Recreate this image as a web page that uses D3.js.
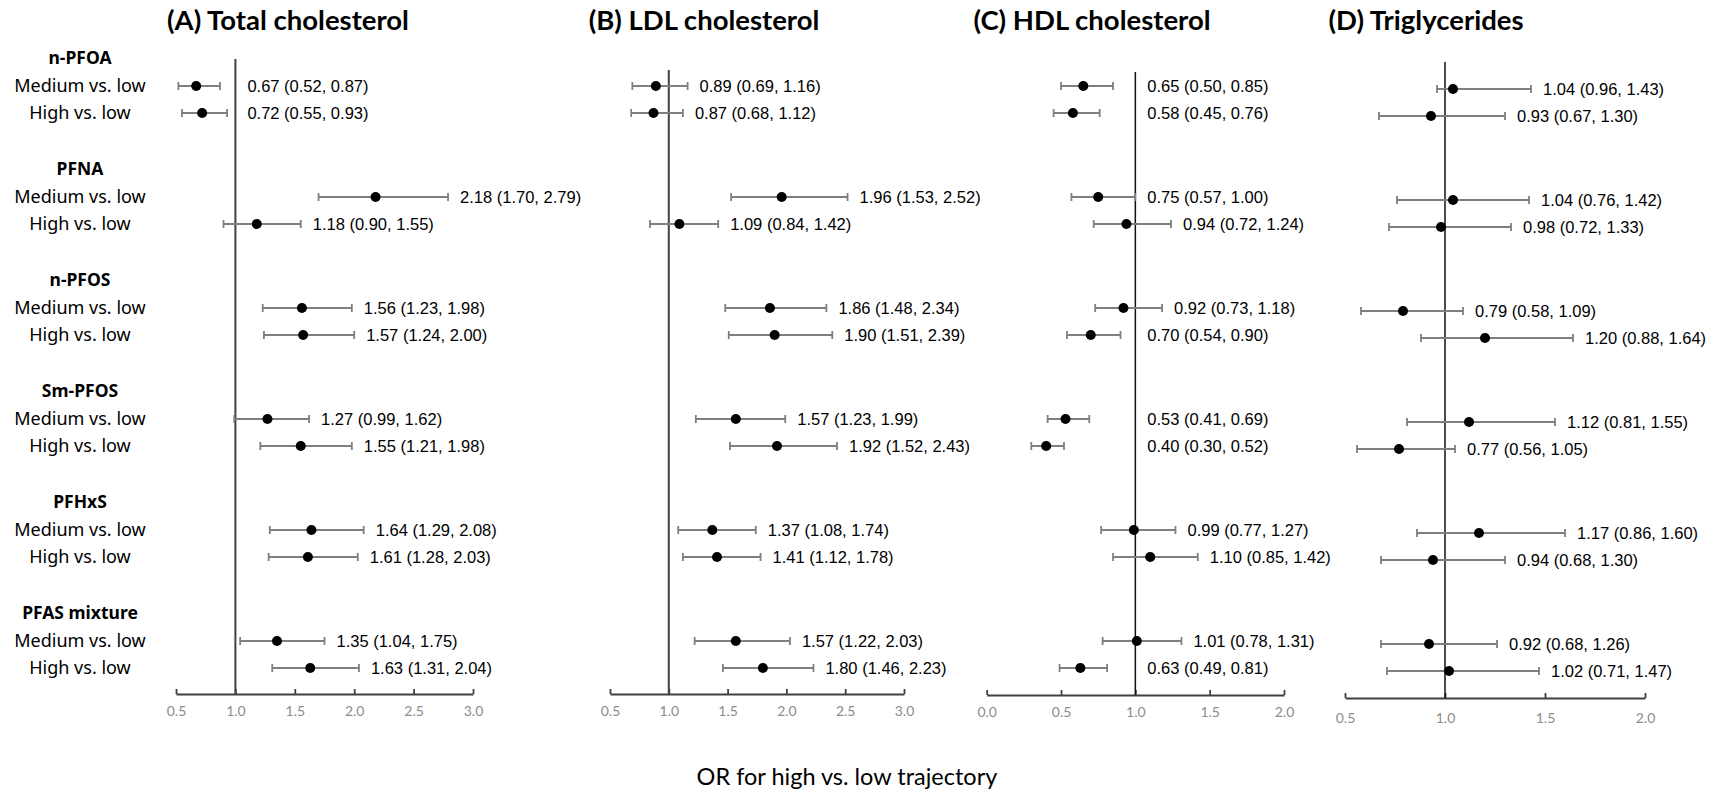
<!DOCTYPE html>
<html><head><meta charset="utf-8">
<script src="https://cdn.jsdelivr.net/npm/d3@7"></script>
<style>
html,body{margin:0;padding:0;background:#fff;}
svg{display:block;}
</style></head>
<body>
<svg id="chart" width="1721" height="793"></svg>
<script>
// ---------------- DATA ----------------
const panelTitles = ["(A) Total cholesterol", "(B) LDL cholesterol", "(C) HDL cholesterol", "(D) Triglycerides"];
const exposures = ["n-PFOA", "PFNA", "n-PFOS", "Sm-PFOS", "PFHxS", "PFAS mixture"];
const contrasts = ["Medium vs. low", "High vs. low"];
const axisTitle = "OR for high vs. low trajectory";

// order: per exposure, [Medium, High]
const tcOR = [0.67, 0.72, 2.18, 1.18, 1.56, 1.57, 1.27, 1.55, 1.64, 1.61, 1.35, 1.63];
const tcLo = [0.52, 0.55, 1.70, 0.90, 1.23, 1.24, 0.99, 1.21, 1.29, 1.28, 1.04, 1.31];
const tcHi = [0.87, 0.93, 2.79, 1.55, 1.98, 2.00, 1.62, 1.98, 2.08, 2.03, 1.75, 2.04];

const ldlOR = [0.89, 0.87, 1.96, 1.09, 1.86, 1.90, 1.57, 1.92, 1.37, 1.41, 1.57, 1.80];
const ldlLo = [0.69, 0.68, 1.53, 0.84, 1.48, 1.51, 1.23, 1.52, 1.08, 1.12, 1.22, 1.46];
const ldlHi = [1.16, 1.12, 2.52, 1.42, 2.34, 2.39, 1.99, 2.43, 1.74, 1.78, 2.03, 2.23];

const hdlOR = [0.65, 0.58, 0.75, 0.94, 0.92, 0.70, 0.53, 0.40, 0.99, 1.10, 1.01, 0.63];
const hdlLo = [0.50, 0.45, 0.57, 0.72, 0.73, 0.54, 0.41, 0.30, 0.77, 0.85, 0.78, 0.49];
const hdlHi = [0.85, 0.76, 1.00, 1.24, 1.18, 0.90, 0.69, 0.52, 1.27, 1.42, 1.31, 0.81];

const tgOR = [1.04, 0.93, 1.04, 0.98, 0.79, 1.20, 1.12, 0.77, 1.17, 0.94, 0.92, 1.02];
const tgLo = [0.96, 0.67, 0.76, 0.72, 0.58, 0.88, 0.81, 0.56, 0.86, 0.68, 0.68, 0.71];
const tgHi = [1.43, 1.30, 1.42, 1.33, 1.09, 1.64, 1.55, 1.05, 1.60, 1.30, 1.26, 1.47];

const tcTicks = [0.5, 1.0, 1.5, 2.0, 2.5, 3.0];
const ldlTicks = [0.5, 1.0, 1.5, 2.0, 2.5, 3.0];
const hdlTicks = [0.0, 0.5, 1.0, 1.5, 2.0];
const tgTicks = [0.5, 1.0, 1.5, 2.0];

// ---------------- LAYOUT ----------------
const svg = d3.select("#chart");
svg.append("rect").attr("width", 1721).attr("height", 793).attr("fill", "#fff");

const panels = [
  {title: panelTitles[0], or: tcOR, lo: tcLo, hi: tcHi, ticks: tcTicks, range: [176, 473], titleX: 288, axisY: 694, refTop: 59, dy: 0, refColor: "#404040", refW: 2},
  {title: panelTitles[1], or: ldlOR, lo: ldlLo, hi: ldlHi, ticks: ldlTicks, range: [610, 904], titleX: 704, axisY: 694, refTop: 70, dy: 0, refColor: "#404040", refW: 2},
  {title: panelTitles[2], or: hdlOR, lo: hdlLo, hi: hdlHi, ticks: hdlTicks, range: [986.7, 1284], titleX: 1092, axisY: 695, refTop: 72, dy: 0, refColor: "#111", refW: 1.5},
  {title: panelTitles[3], or: tgOR, lo: tgLo, hi: tgHi, ticks: tgTicks, range: [1345, 1645], titleX: 1426, axisY: 698, refTop: 62, dy: 3, refColor: "#111", refW: 1.5}
];

// group header positions
const yGroup = d3.scaleLinear().domain([0, exposures.length - 1]).range([58, 613]);
const rowOffset = [28, 55];

// font check for narrow font
function measure(family, size, str) {
  const t = svg.append("text").attr("font-family", family).attr("font-size", size).text(str);
  const w = t.node().getComputedTextLength();
  t.remove();
  return w;
}
const testStr = "0.67 (0.52, 0.87)";
const wNarrow = measure("'Liberation Sans Narrow'", 16, testStr);
const wReg = measure("'Liberation Sans'", 16, testStr);
const hasNarrow = Math.abs(wNarrow - wReg) > 3;
const valueFont = hasNarrow ? "'Liberation Sans Narrow', 'Liberation Sans', Arial, sans-serif" : "'Liberation Sans', Arial, sans-serif";
const valueSquash = hasNarrow ? 1 : 0.82;

// row labels (left)
const rowG = svg.append("g").attr("font-family", "'Noto Sans', sans-serif").attr("fill", "#000");
exposures.forEach((e, g) => {
  rowG.append("text").attr("x", 80).attr("y", yGroup(g)).attr("dy", "0.35em")
    .attr("text-anchor", "middle").attr("font-weight", "bold").attr("font-size", 17.5).text(e);
  contrasts.forEach((c, j) => {
    rowG.append("text").attr("x", 80).attr("y", yGroup(g) + rowOffset[j]).attr("dy", "0.35em")
      .attr("text-anchor", "middle").attr("font-size", 18).text(c);
  });
});

panels.forEach(p => {
  const x = d3.scaleLinear().domain(d3.extent(p.ticks)).range(p.range);
  const g = svg.append("g");

  // title
  svg.append("text").attr("x", p.titleX).attr("y", 30).attr("text-anchor", "middle")
    .attr("font-family", "Lato, 'Open Sans', sans-serif").attr("font-weight", "bold")
    .attr("font-size", 27.5).attr("fill", "#000").text(p.title);

  // axis
  const axis = d3.axisBottom(x).tickValues(p.ticks).tickFormat(d3.format(".1f"))
    .tickSizeInner(-5).tickSizeOuter(0).tickPadding(p.dy ? 15 : 12);
  const ag = g.append("g").attr("transform", `translate(0,${p.axisY})`).call(axis);
  ag.select(".domain").attr("stroke", "#404040").attr("stroke-width", 1.8);
  ag.selectAll(".tick line").attr("stroke", "#404040").attr("stroke-width", 1.8);
  ag.selectAll(".tick text").attr("fill", "#8c8c8c").attr("font-size", 14)
    .attr("font-family", "Lato, 'Open Sans', sans-serif");

  // reference line
  g.append("line").attr("x1", x(1)).attr("x2", x(1)).attr("y1", p.refTop).attr("y2", p.axisY)
    .attr("stroke", p.refColor).attr("stroke-width", p.refW);

  // rows
  const rows = p.or.map((v, i) => ({
    or: v, lo: p.lo[i], hi: p.hi[i],
    y: yGroup(Math.floor(i / 2)) + rowOffset[i % 2] + p.dy
  }));

  const rg = g.selectAll(".row").data(rows).enter().append("g");
  rg.append("line").attr("x1", d => x(d.lo)).attr("x2", d => x(d.hi))
    .attr("y1", d => d.y).attr("y2", d => d.y).attr("stroke", "#7f7f7f").attr("stroke-width", 2);
  rg.append("line").attr("x1", d => x(d.lo)).attr("x2", d => x(d.lo))
    .attr("y1", d => d.y - 4).attr("y2", d => d.y + 4).attr("stroke", "#7f7f7f").attr("stroke-width", 1.8);
  rg.append("line").attr("x1", d => x(d.hi)).attr("x2", d => x(d.hi))
    .attr("y1", d => d.y - 4).attr("y2", d => d.y + 4).attr("stroke", "#7f7f7f").attr("stroke-width", 1.8);
  rg.append("circle").attr("cx", d => x(d.or)).attr("cy", d => d.y).attr("r", 5).attr("fill", "#000");
  rg.append("text").attr("x", d => Math.max(x(d.hi), x(1)) + 12).attr("y", d => d.y).attr("dy", "0.36em")
    .attr("font-family", valueFont).attr("font-size", 16.5).attr("fill", "#000")
    .text(d => `${d.or.toFixed(2)} (${d.lo.toFixed(2)}, ${d.hi.toFixed(2)})`)
    .each(function() {
      if (valueSquash !== 1) {
        const w = this.getComputedTextLength();
        d3.select(this).attr("textLength", w * valueSquash).attr("lengthAdjust", "spacingAndGlyphs");
      }
    });
});

// axis title
svg.append("text").attr("x", 847).attr("y", 785).attr("text-anchor", "middle")
  .attr("font-family", "Lato, 'Open Sans', sans-serif").attr("font-size", 23.5).attr("fill", "#000")
  .text(axisTitle);
</script>
</body></html>
